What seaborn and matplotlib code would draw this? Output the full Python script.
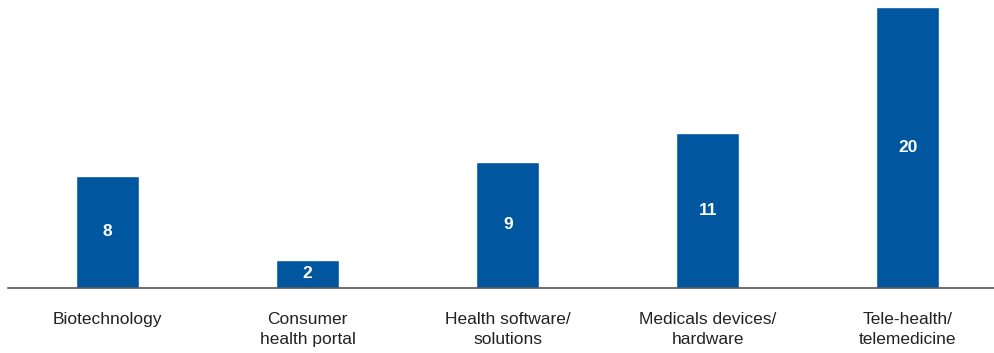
import matplotlib
matplotlib.use("Agg")
import matplotlib.pyplot as plt
import seaborn as sns
import pandas as pd

categories = ["Biotechnology", "Consumer\nhealth portal", "Health software/\nsolutions",
              "Medicals devices/\nhardware", "Tele-health/\ntelemedicine"]
values = [8, 2, 9, 11, 20]

sns.set_style("white")
plt.rcParams['font.family'] = ['Liberation Sans', 'DejaVu Sans']

df = pd.DataFrame({"category": categories, "value": values})

fig = plt.figure(figsize=(9.94, 3.53), dpi=100)
ax = fig.add_axes([8 / 994, 1 - 288 / 353, 1 - 8 / 994, 281 / 353])

sns.barplot(data=df, x="category", y="value", color="#0057a0", saturation=1,
            width=0.315, ax=ax)

for i, v in enumerate(values):
    ax.text(i, v / 2, str(v), ha="center", va="center", color="white",
            fontsize=12.5, fontweight="bold")

ax.set_xlim(-0.4975, 4.43)
ax.set_ylim(0, 20)
ax.set_xlabel("")
ax.set_ylabel("")
ax.set_yticks([])
for s in ["top", "right", "left"]:
    ax.spines[s].set_visible(False)
ax.spines["bottom"].set_color("#555555")
ax.spines["bottom"].set_linewidth(1.2)
ax.tick_params(axis="x", length=0, pad=17, labelsize=12.5, colors="#222222")
for lab in ax.get_xticklabels():
    lab.set_linespacing(1.45)

fig.savefig("out.png", dpi=100)
